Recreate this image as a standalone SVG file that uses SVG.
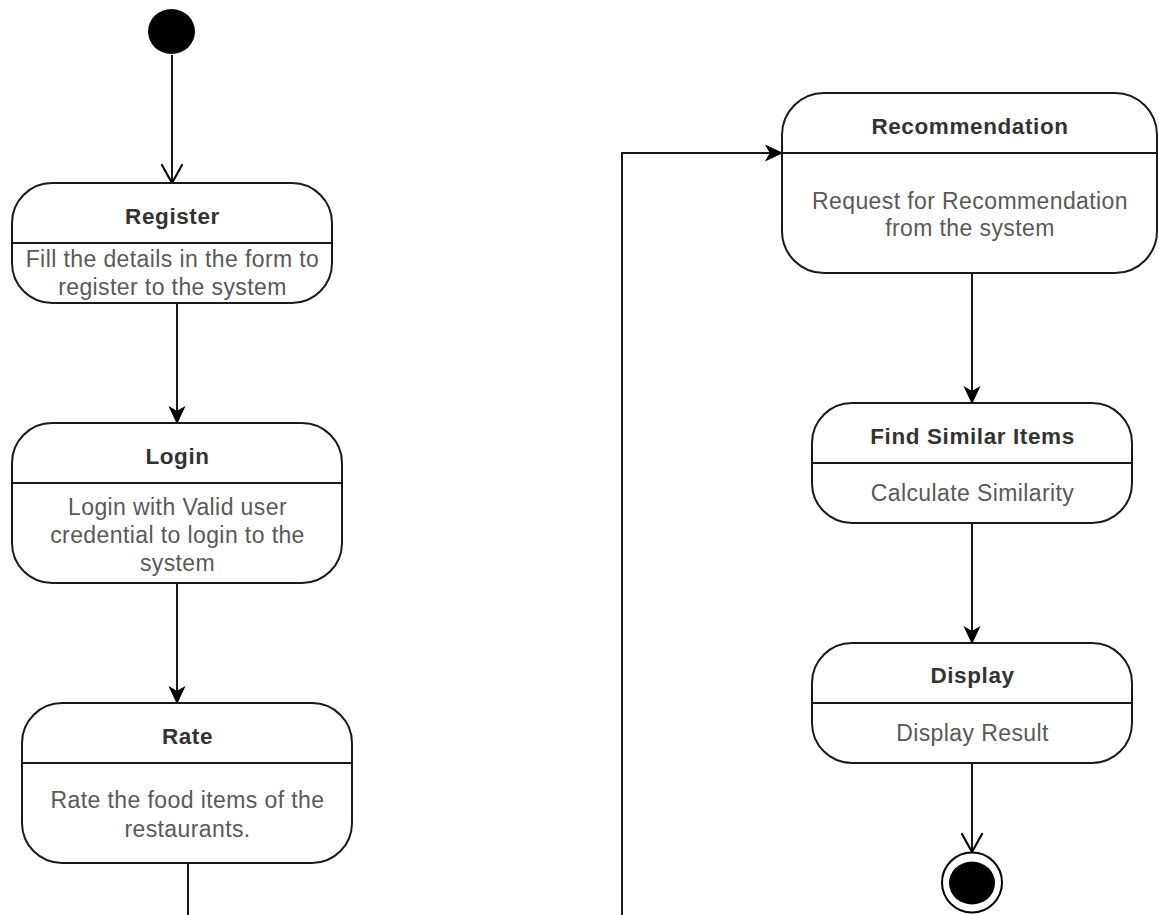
<svg xmlns="http://www.w3.org/2000/svg" width="1159" height="915" viewBox="0 0 1159 915">
  <defs>
    <marker id="arrow-filled" markerUnits="userSpaceOnUse" markerWidth="20" markerHeight="20" viewBox="-17 -9 19 18" refX="0" refY="0" orient="auto">
      <path d="M0,0 L-15,-7 L-11,0 L-15,7 Z" fill="#000" stroke="#000" stroke-width="1" stroke-linejoin="miter"/>
    </marker>
    <marker id="arrow-open" markerUnits="userSpaceOnUse" markerWidth="24" markerHeight="26" viewBox="-21 -12 23 24" refX="0" refY="0" orient="auto">
      <path d="M-18,-10 L0,0 L-18,10" fill="none" stroke="#000" stroke-width="2"/>
    </marker>
  </defs>
  <style>
    .state { fill: #fff; stroke: #1a1a1a; stroke-width: 2; }
    .divider { stroke: #1a1a1a; stroke-width: 2; }
    .title { font-family: "Liberation Sans", Arial, Helvetica, sans-serif; font-size: 22.5px; font-weight: bold; letter-spacing: 0.6px; fill: #333; text-anchor: middle; }
    .body { font-family: "Liberation Sans", Arial, Helvetica, sans-serif; font-size: 23px; letter-spacing: 0.4px; fill: #595959; text-anchor: middle; }
    .edge { fill: none; stroke: #1a1a1a; stroke-width: 2; }
  </style>
  <rect width="1159" height="915" fill="#fff"/>

  <!-- transitions -->
  <g id="connectors">
    <path class="edge" d="M172,55 L172,183" marker-end="url(#arrow-open)"/>
    <path class="edge" d="M177,303 L177,423" marker-end="url(#arrow-filled)"/>
    <path class="edge" d="M177,583 L177,703" marker-end="url(#arrow-filled)"/>
    <path class="edge" d="M188,863 L188,915"/>
    <path class="edge" d="M622,915 L622,153 L782,153" marker-end="url(#arrow-filled)"/>
    <path class="edge" d="M972,273 L972,403" marker-end="url(#arrow-filled)"/>
    <path class="edge" d="M972,523 L972,643" marker-end="url(#arrow-filled)"/>
    <path class="edge" d="M972,763 L972,852" marker-end="url(#arrow-open)"/>
  </g>

  <!-- initial state -->
  <g id="start">
    <ellipse cx="171.5" cy="31.5" rx="23.5" ry="22.5" fill="#000"/>
  </g>

  <g id="register">
    <rect class="state" x="12" y="183" width="320" height="120" rx="40" ry="40"/>
    <line class="divider" x1="12" y1="243" x2="332" y2="243"/>
    <text class="title" x="172.5" y="224">Register</text>
    <text class="body" x="172.5" y="267">Fill the details in the form to</text>
    <text class="body" x="172.5" y="295">register to the system</text>
  </g>

  <g id="login">
    <rect class="state" x="12" y="423" width="330" height="160" rx="40" ry="40"/>
    <line class="divider" x1="12" y1="483" x2="342" y2="483"/>
    <text class="title" x="177.5" y="464">Login</text>
    <text class="body" x="177.5" y="515">Login with Valid user</text>
    <text class="body" x="177.5" y="543">credential to login to the</text>
    <text class="body" x="177.5" y="571">system</text>
  </g>

  <g id="rate">
    <rect class="state" x="22" y="703" width="330" height="160" rx="40" ry="40"/>
    <line class="divider" x1="22" y1="763" x2="352" y2="763"/>
    <text class="title" x="187.5" y="744">Rate</text>
    <text class="body" x="187.5" y="808">Rate the food items of the</text>
    <text class="body" x="187.5" y="837">restaurants.</text>
  </g>

  <g id="recommendation">
    <rect class="state" x="782" y="93" width="375" height="180" rx="42" ry="42"/>
    <line class="divider" x1="782" y1="153" x2="1157" y2="153"/>
    <text class="title" x="970" y="133.5">Recommendation</text>
    <text class="body" x="970" y="209">Request for Recommendation</text>
    <text class="body" x="970" y="236">from the system</text>
  </g>

  <g id="find-similar">
    <rect class="state" x="812" y="403" width="320" height="120" rx="40" ry="40"/>
    <line class="divider" x1="812" y1="463" x2="1132" y2="463"/>
    <text class="title" x="972.5" y="443.5">Find Similar Items</text>
    <text class="body" x="972.5" y="501">Calculate Similarity</text>
  </g>

  <g id="display">
    <rect class="state" x="812" y="643" width="320" height="120" rx="40" ry="40"/>
    <line class="divider" x1="812" y1="703" x2="1132" y2="703"/>
    <text class="title" x="972.5" y="683">Display</text>
    <text class="body" x="972.5" y="741">Display Result</text>
  </g>

  <!-- final state -->
  <g id="end">
    <ellipse cx="972" cy="882.5" rx="30" ry="30" fill="#fff" stroke="#000" stroke-width="2"/>
    <ellipse cx="972" cy="883" rx="23" ry="21.5" fill="#000"/>
  </g>
</svg>
